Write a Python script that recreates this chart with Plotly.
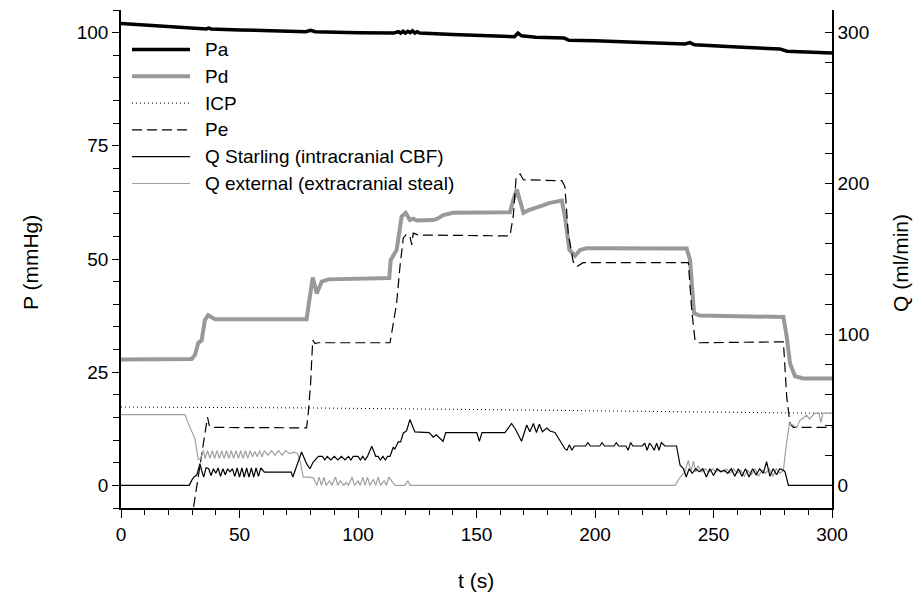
import plotly.graph_objects as go

# ---------------- data ----------------
pa_t = [0, 10, 20, 30, 36, 37, 38, 50, 78, 80, 82, 100, 115, 117, 118, 119, 120, 121, 122, 123, 124, 125, 126,
        140, 160, 166, 167.5, 169, 175, 187, 189, 200, 220, 238, 240, 242, 260, 278, 281, 300]
pa_v = [102.0, 101.7, 101.3, 101.0, 100.8, 101.0, 100.8, 100.6, 100.2, 100.5, 100.2, 100.0, 99.9, 100.2, 99.9,
        100.3, 99.9, 100.3, 100.0, 100.4, 99.9, 100.2, 99.9, 99.6, 99.2, 99.1, 99.9, 99.3, 99.0, 98.8, 98.3,
        98.2, 97.8, 97.5, 97.8, 97.3, 96.8, 96.4, 95.9, 95.5]

pd_t = [0, 29.8, 31.2, 32.6, 34.0, 35.4, 36.8, 39.7, 60, 78.3, 79.7, 80.9, 82.6, 84.7, 87.5, 100, 113.2, 113.8,
        116.3, 118.4, 120.1, 121.9, 123.3, 124.7, 131.8, 133.5, 136, 140.2, 164.1, 165.5, 167, 169.8, 172,
        176.8, 181, 186, 187.3, 189.2, 191.6, 193.7, 196.5, 238.7, 240.1, 241.8, 244.3, 279.5, 280.9, 282.3,
        284.4, 287.9, 300]
pd_v = [27.8, 27.9, 28.8, 31.5, 32.0, 36.5, 37.6, 36.7, 36.7, 36.7, 41.7, 45.9, 42.4, 45.0, 45.5, 45.7, 45.8,
        49.8, 52.0, 59.4, 60.2, 58.6, 58.9, 58.5, 58.6, 58.9, 59.7, 60.2, 60.3, 63.0, 65.4, 60.2, 60.8, 61.6,
        62.4, 62.9, 59.4, 52.0, 50.7, 52.0, 52.4, 52.3, 49.8, 38.0, 37.5, 37.2, 32.8, 26.9, 24.1, 23.6, 23.6]

icp_t = [0, 80, 160, 240, 300]
icp_v = [17.3, 17.1, 16.7, 16.3, 15.9]

pe_t = [29.6, 30.5, 36.5, 37.2, 38.5, 78.3, 79.0, 79.7, 80.0, 80.9, 81.9, 83.2, 113.5, 114.9, 116.3, 117.7,
        119.1, 120.5, 122.0, 122.7, 123.3, 125.4, 164.1, 165.5, 166.7, 168.4, 169.8, 186, 187.3, 188.7, 190.8,
        192.3, 195, 239.4, 240.8, 242.2, 243.6, 279.5, 280.9, 282.3, 283.7, 300]
pe_v = [-8, -5.2, 15.1, 13.3, 12.8, 12.7, 15.9, 19.5, 22.5, 32.1, 31.3, 31.5, 31.5, 35.8, 40.2, 48.3, 54.6,
        55.5, 54.8, 53.1, 55.7, 55.3, 55.1, 59.4, 67.9, 68.8, 67.5, 67.3, 66.0, 55.7, 49.4, 48.3, 49.2, 49.2,
        38.7, 32.1, 31.5, 31.7, 19.5, 13.6, 12.8, 12.8]

qs_t = [0, 28.8, 29.8, 30.8, 32.0, 33.3, 34.0, 34.9, 35.9, 37, 38, 39, 40, 41, 42, 43, 44, 45, 46, 47, 48, 49,
        50, 51, 52, 53, 54, 55, 56, 57, 58, 59, 60.5, 71.8, 72.5, 74.0, 76.2, 78.3, 79.7, 81.1, 83.3, 85, 86,
        87, 88.5, 90, 91.5, 93, 94.5, 96, 97, 98, 100, 101, 102, 103, 104, 105.8, 107.5, 108.5, 109.4, 110.5,
        111.5, 112.5, 113.5, 114.9, 115.5, 117, 118, 119.1, 120.5, 121.9, 124, 130, 131.8, 133, 134, 135.9,
        137, 150.1, 151.2, 152.3, 162, 162.8, 164.8, 166.5, 169, 171.2, 172.5, 174, 175.3, 176.5, 177.8,
        179.7, 181, 183.1, 185.2, 187.3, 188.2, 189.2, 190.2, 191.3, 196, 197, 198, 202, 203, 204, 208, 209,
        210, 213, 214, 215, 216, 220, 221, 222, 223, 224, 225, 226, 227, 228, 229.5, 234.4, 235.9, 237.3,
        238.5, 239.7, 241, 242.5, 244, 245.5, 247, 248.5, 250, 251.5, 253, 254.5, 256, 257.5, 259, 260.5,
        262, 263.5, 265, 266.5, 268, 269.5, 271, 272.4, 273.8, 275.2, 276.6, 278, 279.5, 280.2, 281.6, 300]
qs_v = [0, 0, 3.3, 5.5, 7, 14.4, 10, 5.5, 11.7, 11, 6.5, 11, 8, 11.5, 6, 11, 7, 11, 9, 11, 6, 11.5, 5.5, 11.5,
        5.5, 11.5, 5.5, 11.5, 5.5, 11.5, 6, 11.5, 8.8, 8.8, 5.5, 11.7, 22.1, 14.4, 11, 15.5, 19.2, 19.2, 16.8,
        19.2, 16.8, 19.2, 16.8, 19.2, 16.8, 19.2, 16.8, 19.2, 19.2, 16.8, 19.2, 16.8, 19.2, 25.9, 19.2, 19.2,
        16.8, 19.2, 16.8, 19.2, 19.2, 25.4, 24, 28.8, 28.8, 34.7, 36.1, 43.6, 35.4, 35, 31.9, 33.5, 32, 29.2,
        35, 35, 29.2, 35, 35, 36.5, 41, 37, 29.2, 40, 35.5, 41, 35, 40.5, 35.5, 38, 36, 35, 29.9, 24.3, 23.3,
        27, 23.3, 26.1, 26.1, 28.3, 26.1, 26.1, 28.3, 26.1, 26.1, 28.3, 26.1, 26.1, 23.3, 28.3, 26.1, 26.1,
        28, 23.3, 28, 26.1, 23.3, 28, 23.3, 28.3, 26.1, 26.1, 13.3, 11.1, 5.5, 11, 8, 11, 9, 11, 5.5, 11, 6.5,
        11, 9, 10, 8, 11, 6, 11, 6, 11, 5.5, 11, 7, 11, 8, 15.7, 6, 11, 7, 11, 10, 9, 0, 0]

qe_t = [0, 27, 28.4, 29.8, 31.2, 32.6, 33.6, 34.7, 35.5, 36.5, 37.5, 38.5, 39.5, 40.5, 41.5, 42.5, 43.5, 44.5,
        45.5, 46.5, 47.5, 48.5, 49.5, 50.5, 51.5, 52.5, 53.5, 54.5, 55.5, 56.5, 57.5, 58.5, 59.5, 60.5, 62,
        63.5, 65, 66.5, 68, 69.5, 71, 73, 74.5, 75.5, 76.9, 79, 81.1, 82.6, 83.6, 84.6, 85.6, 86.6, 88, 89,
        90.5, 91.5, 92.5, 94, 95, 96, 97.5, 98.5, 100, 101, 102, 103, 104, 105, 106.5, 107.5, 108.5, 109.5,
        111, 112, 113, 115.6, 119.8, 121, 122, 233.8, 235.9, 237.9, 239.4, 240.5, 241.5, 242.5, 243.5, 245,
        246.5, 248, 249.5, 251, 252.5, 254, 255.5, 257, 258.5, 260, 261.5, 263, 264.5, 266, 267.5, 269, 270.5,
        272, 273.5, 275, 276.5, 278, 279.5, 280.6, 282, 283.5, 285.1, 286.5, 289.3, 290.5, 292.8, 294.5,
        295.3, 296.2, 300]
qe_v = [46.9, 46.9, 40.9, 36.3, 31, 17.3, 17.5, 23.2, 17.7, 23, 18, 23, 18, 23, 18, 23, 18, 23, 18, 23, 18, 23,
        18, 23, 18, 23, 18, 23, 19, 22.5, 19, 23, 19, 23, 20, 23, 20, 23, 20, 23, 21, 22, 21, 16.6, 5.5, 5.5, 5,
        0, 5.5, 0, 5.5, 0, 3, 0, 5.5, 0, 3, 0, 2, 0, 5.5, 0, 3, 0, 5.5, 0, 5.5, 0, 4, 0, 5.5, 0, 3, 0, 5.5, 0, 0,
        3, 0, 0, 5.5, 8.8, 16.6, 8.8, 16, 9, 13, 9, 11, 8.8, 11, 9, 10, 8.8, 11, 8, 11, 8, 10, 6, 10, 7, 11, 6,
        10, 8, 11, 6, 11, 8, 10, 25.4, 40.9, 40, 38.3, 43.1, 46.5, 44, 47.9, 47.9, 41.8, 47.9, 47.9]

legend_names = ["Pa", "Pd", "ICP", "Pe", "Q Starling (intracranial CBF)", "Q external (extracranial steal)"]

# ---------------- styling ----------------
FONT = "Liberation Sans, Arial, Helvetica, sans-serif"
GRAY = "#999999"
styles = [
    dict(color="black", width=3.5, dash="solid"),
    dict(color=GRAY, width=4, dash="solid"),
    dict(color="black", width=1, dash="1px,3px"),
    dict(color="black", width=1.2, dash="10px,5px"),
    dict(color="black", width=1.2, dash="solid"),
    dict(color="#a0a0a0", width=1.2, dash="solid"),
]

fig = go.Figure()
fig.add_trace(go.Scatter(x=qe_t, y=qe_v, yaxis="y2", mode="lines", line=styles[5], name=legend_names[5]))
fig.add_trace(go.Scatter(x=qs_t, y=qs_v, yaxis="y2", mode="lines", line=styles[4], name=legend_names[4]))
fig.add_trace(go.Scatter(x=icp_t, y=icp_v, mode="lines", line=styles[2], name=legend_names[2]))
fig.add_trace(go.Scatter(x=pd_t, y=pd_v, mode="lines", line=styles[1], name=legend_names[1]))
fig.add_trace(go.Scatter(x=pe_t, y=pe_v, mode="lines", line=styles[3], name=legend_names[3]))
fig.add_trace(go.Scatter(x=pa_t, y=pa_v, mode="lines", line=styles[0], name=legend_names[0]))

# The page body adds an 8px offset; compensate so the plot lands at the reference's pixel positions.
OFF = 8
W, H = 923 - OFF, 603 - OFF
PL, PR, PT, PB = 121, 832, 10, 508          # plot area in screenshot pixels
ML, MR, MT, MB = PL - OFF, 923 - PR, PT - OFF, 603 - PB
PW, PH = PR - PL, PB - PT

def px_x(x):
    return (x - PL) / PW

def px_y(y):
    return (PB - y) / PH

# manual legend
shapes = []
annotations = []
for i, (name, st) in enumerate(zip(legend_names, styles)):
    yy = px_y(49.5 + 26.8 * i)
    shapes.append(dict(type="line", xref="paper", yref="paper", x0=px_x(132), x1=px_x(190), y0=yy, y1=yy,
                       line=dict(color=st["color"], width=st["width"], dash=st["dash"])))
    annotations.append(dict(text=name, xref="paper", yref="paper", x=px_x(203), y=yy, xanchor="left",
                            yanchor="middle", showarrow=False, font=dict(family=FONT, size=19, color="black")))

annotations += [
    dict(text="P (mmHg)", xref="paper", yref="paper", x=px_x(30), y=px_y(263), textangle=-90,
         xanchor="center", yanchor="middle", showarrow=False, font=dict(family=FONT, size=21, color="black")),
    dict(text="Q (ml/min)", xref="paper", yref="paper", x=px_x(900), y=px_y(263), textangle=-90,
         xanchor="center", yanchor="middle", showarrow=False, font=dict(family=FONT, size=21, color="black")),
    dict(text="t (s)", xref="paper", yref="paper", x=px_x(476), y=px_y(580),
         xanchor="center", yanchor="middle", showarrow=False, font=dict(family=FONT, size=21, color="black")),
]

fig.update_layout(
    width=W, height=H, autosize=False,
    margin=dict(l=ML, r=MR, t=MT, b=MB, pad=0),
    paper_bgcolor="white", plot_bgcolor="white",
    showlegend=False,
    font=dict(family=FONT, size=19, color="black"),
    shapes=shapes, annotations=annotations,
    xaxis=dict(range=[0, 300], tickvals=[0, 50, 100, 150, 200, 250, 300], ticks="outside", ticklen=8,
               tickwidth=1.2, tickcolor="black", showline=True, linecolor="black", linewidth=1.5,
               showgrid=False, zeroline=False, minor=dict(dtick=10, tick0=0, ticks="outside", ticklen=5,
                                                         tickwidth=1.2, tickcolor="black", showgrid=False)),
    yaxis=dict(range=[-5, 105], tickvals=[0, 25, 50, 75, 100], ticks="outside", ticklen=7, tickwidth=1.2,
               tickcolor="black", showline=True, linecolor="black", linewidth=1.5, showgrid=False,
               zeroline=False, minor=dict(dtick=5, tick0=0, ticks="outside", ticklen=6, tickwidth=1.2,
                                          tickcolor="black", showgrid=False)),
    yaxis2=dict(range=[-15, 315], overlaying="y", side="right", tickvals=[0, 100, 200, 300], ticks="inside",
                ticklen=7, tickwidth=1.2, tickcolor="black", showline=True, linecolor="black", linewidth=1.5,
                showgrid=False, zeroline=False,
                minor=dict(dtick=20, tick0=0, ticks="inside", ticklen=7, tickwidth=1.2, tickcolor="black",
                           showgrid=False)),
)

fig.write_html("out.html")
